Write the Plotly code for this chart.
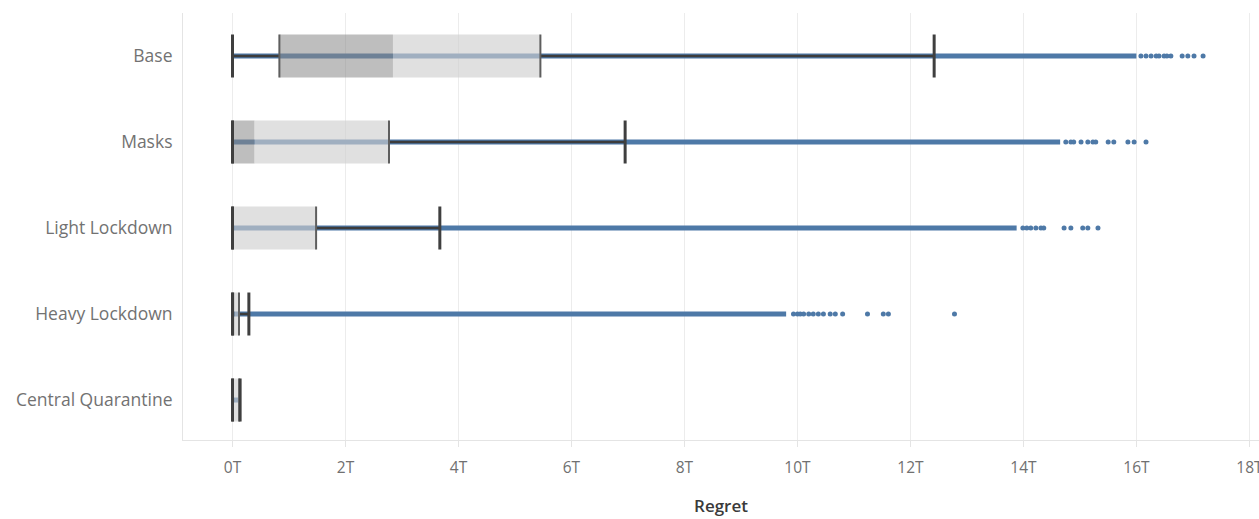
import plotly.graph_objects as go

# ---- data (regret in trillions) ----
categories = ["Base", "Masks", "Light Lockdown", "Heavy Lockdown", "Central Quarantine"]
whisker_low = [0.0, 0.0, 0.0, 0.0, 0.0]
q1 = [0.83, 0.0, 0.0, 0.0, 0.0]
median = [2.84, 0.39, 0.03, 0.04, 0.03]
q3 = [5.45, 2.77, 1.48, 0.115, 0.12]
whisker_high = [12.42, 6.95, 3.67, 0.29, 0.135]
dense_max = [16.0, 14.65, 13.88, 9.8, 0.1]

base_tail = [16.08, 16.17, 16.26, 16.35, 16.40, 16.49, 16.54, 16.61, 16.81, 16.91, 17.02, 17.18]
masks_tail = [14.75, 14.84, 14.89, 15.02, 15.14, 15.23, 15.28, 15.50, 15.60, 15.85, 15.96, 16.17]
light_tail = [13.99, 14.06, 14.13, 14.22, 14.31, 14.36, 14.72, 14.84, 15.05, 15.14, 15.32]
heavy_tail = [9.93, 10.0, 10.05, 10.11, 10.20, 10.28, 10.37, 10.46, 10.58, 10.67, 10.80, 11.24, 11.52, 11.61, 12.78]
central_tail = []
tails = [base_tail, masks_tail, light_tail, heavy_tail, central_tail]

x_ticks = [0, 2, 4, 6, 8, 10, 12, 14, 16, 18]

# ---- styles ----
BLUE = "#4e79a7"
H = 0.25  # half box height in category units

fig = go.Figure()

for i, cat in enumerate(categories):
    # dense run of points (overlapping dots -> continuous band)
    fig.add_trace(go.Scatter(x=[whisker_low[i], dense_max[i]], y=[i, i], mode="lines",
                             line=dict(color=BLUE, width=5), hoverinfo="skip"))
    # sparse tail points
    if tails[i]:
        fig.add_trace(go.Scatter(x=tails[i], y=[i] * len(tails[i]), mode="markers",
                                 marker=dict(color=BLUE, size=5, line=dict(width=0)),
                                 hoverinfo="skip"))
    # whiskers
    fig.add_trace(go.Scatter(x=[whisker_low[i], q1[i], None, q3[i], whisker_high[i]],
                             y=[i, i, None, i, i], mode="lines",
                             line=dict(color="#3c3c3c", width=2.5), hoverinfo="skip"))
    # box lower half (q1 -> median), darker
    fig.add_trace(go.Scatter(x=[q1[i], median[i], median[i], q1[i], q1[i]],
                             y=[i - H, i - H, i + H, i + H, i - H], mode="lines", fill="toself",
                             fillcolor="rgba(136,136,136,0.55)", line=dict(width=0),
                             hoverinfo="skip"))
    # box upper half (median -> q3), lighter
    fig.add_trace(go.Scatter(x=[median[i], q3[i], q3[i], median[i], median[i]],
                             y=[i - H, i - H, i + H, i + H, i - H], mode="lines", fill="toself",
                             fillcolor="rgba(207,207,207,0.64)", line=dict(width=0),
                             hoverinfo="skip"))
    # box edges at q1 / q3
    fig.add_trace(go.Scatter(x=[q1[i], q1[i], None, q3[i], q3[i]],
                             y=[i - H, i + H, None, i - H, i + H], mode="lines",
                             line=dict(color="#5e5e5e", width=2), hoverinfo="skip"))
    # whisker caps
    fig.add_trace(go.Scatter(x=[whisker_low[i], whisker_low[i], None, whisker_high[i], whisker_high[i]],
                             y=[i - H, i + H, None, i - H, i + H], mode="lines",
                             line=dict(color="#3f3f3f", width=3), hoverinfo="skip"))

fig.add_shape(type="line", xref="x", yref="paper", x0=0, x1=0, y0=0, y1=1,
              line=dict(color="#c4c4c4", width=1, dash="dot"), layer="below")

fig.update_layout(
    width=1259, height=519,
    margin=dict(l=183, r=0, t=13, b=79),
    paper_bgcolor="white", plot_bgcolor="white",
    showlegend=False, hovermode=False,
    font=dict(family="Open Sans", color="#6e6e6e"),
)

fig.update_xaxes(
    range=[-0.876, 18.17],
    tickvals=x_ticks, ticktext=[f"{v}T" for v in x_ticks],
    showgrid=True, gridcolor="#ececec", gridwidth=1,
    zeroline=False,
    showline=True, linecolor="#e4e4e4", linewidth=1,
    ticks="outside", ticklen=6, tickcolor="#e4e4e4",
    ticklabelstandoff=7,
    tickfont=dict(size=15.5, color="#707070"),
    ticklabeloverflow="allow",
    title=dict(text="Regret", font=dict(size=17, color="#3a3a3a", weight=600), standoff=23),
    automargin=False,
)

fig.update_yaxes(
    range=[4.465, -0.5],
    tickvals=list(range(len(categories))), ticktext=categories,
    showgrid=False, zeroline=False,
    showline=True, linecolor="#e4e4e4", linewidth=1,
    ticks="", ticklabelstandoff=6,
    tickfont=dict(size=17.5, color="#727272"),
    automargin=False,
)

fig.write_html("out.html")
